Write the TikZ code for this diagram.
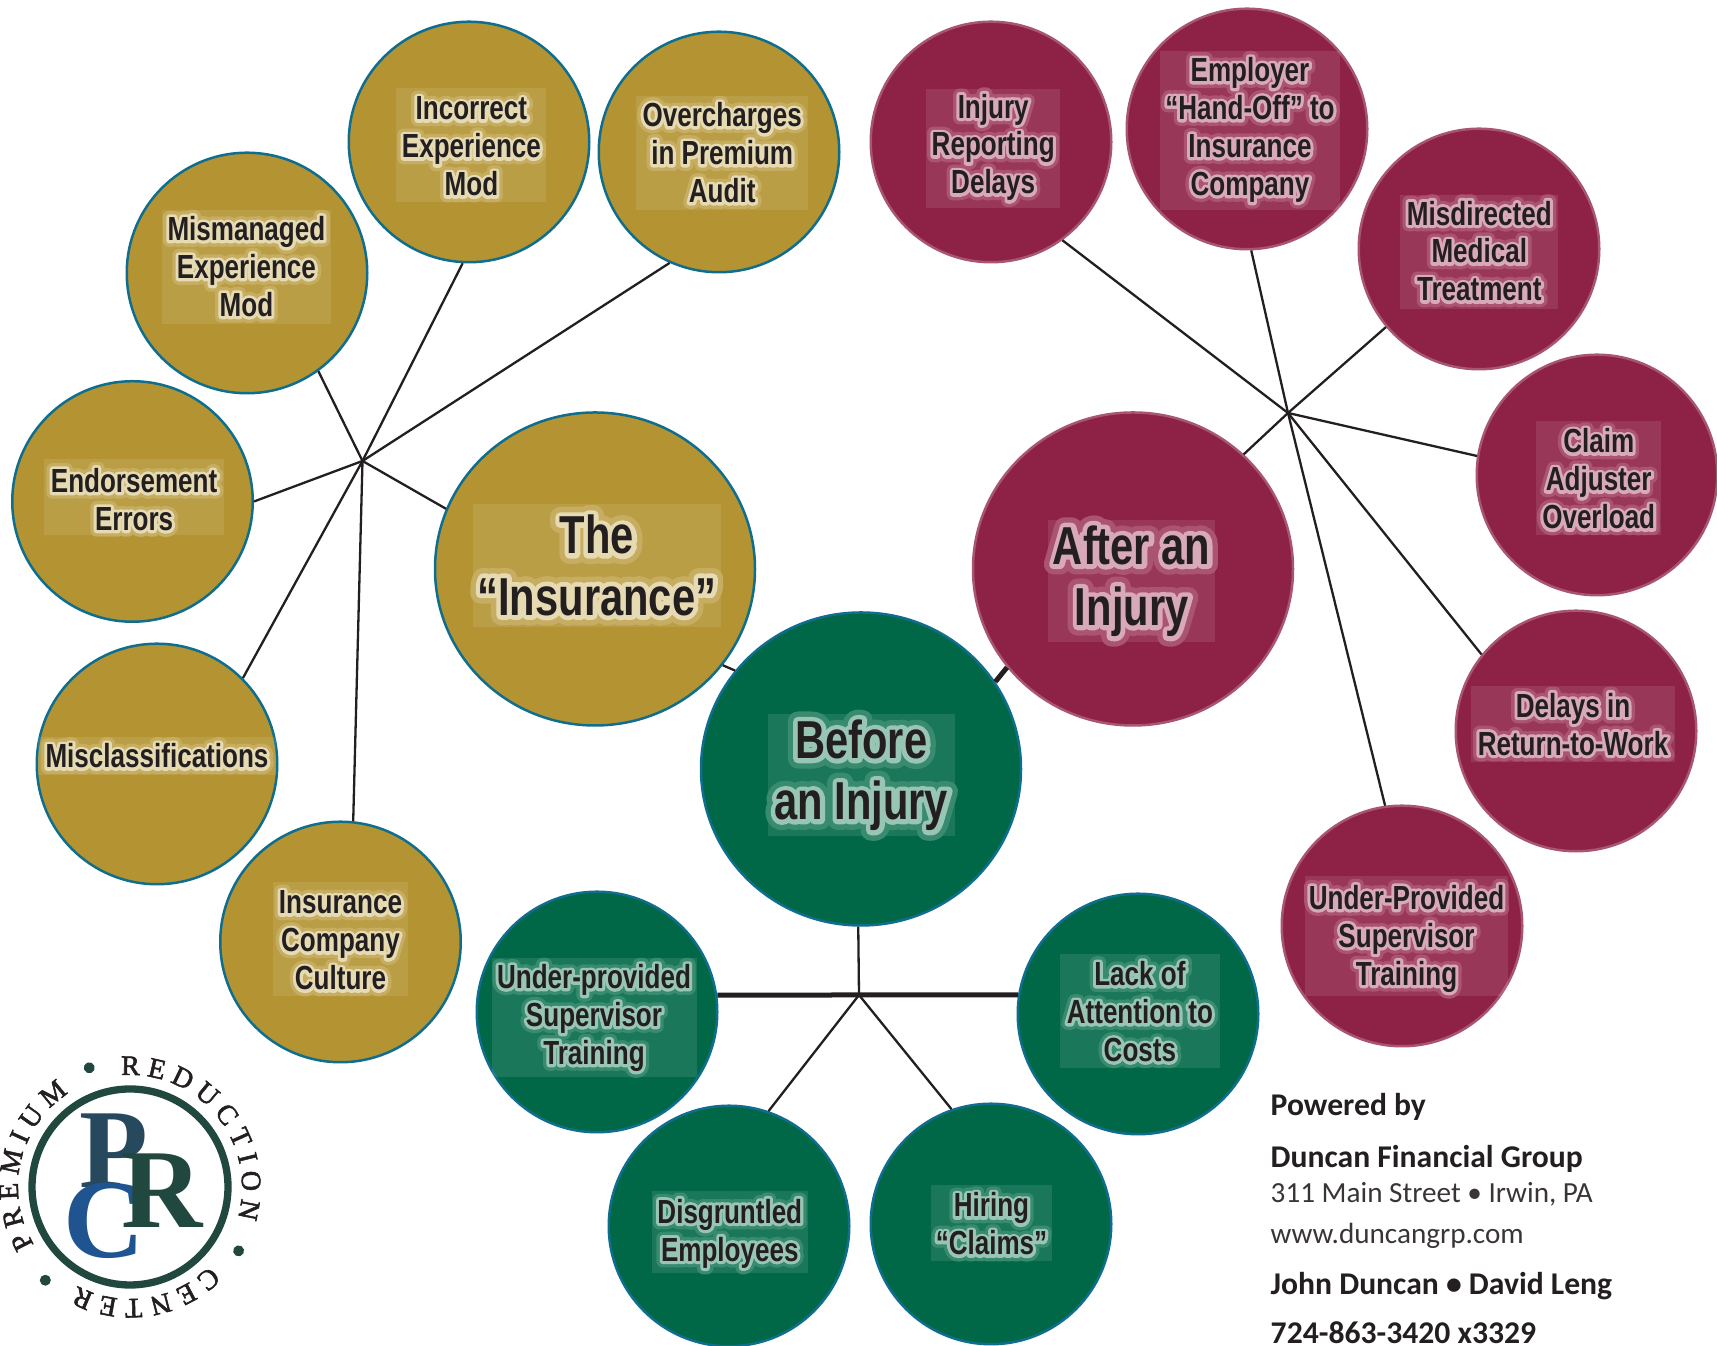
\documentclass[tikz,border=0pt]{standalone}
\usepackage{fontspec}
\usetikzlibrary{shapes,decorations.text}
\setmainfont{Carlito}
\newfontfamily\bubblefont[FakeStretch=0.78,UprightFont=* Bold]{Liberation Sans}
\newfontfamily\glowwide[FakeStretch=0.78,FakeBold=38,UprightFont=* Bold]{Liberation Sans}
\newfontfamily\glownarrow[FakeStretch=0.78,FakeBold=18,UprightFont=* Bold]{Liberation Sans}
\newfontfamily\logofont[UprightFont=* Bold]{Liberation Serif}
\newfontfamily\ringfont[FakeBold=2]{Liberation Serif}
\definecolor{gold}{HTML}{B39332}
\definecolor{goldhalo}{HTML}{F3EBD2}
\definecolor{pine}{HTML}{006847}
\definecolor{pinehalo}{HTML}{BFDCD0}
\definecolor{wine}{HTML}{8E2146}
\definecolor{winehalo}{HTML}{EBCBD6}
\definecolor{tealedge}{HTML}{0F6E8E}
\definecolor{wineedge}{HTML}{A8556F}
\definecolor{ink}{HTML}{231F20}
\definecolor{ringgreen}{HTML}{20483F}
\definecolor{pslate}{HTML}{27495E}
\definecolor{cblue}{HTML}{1F5490}
\newcommand{\lines}[1]{\begin{tabular}{@{}c@{}}#1\end{tabular}}
\newcommand{\glowlabel}[3][0pt]{\leavevmode\pgfsetroundjoin\raisebox{-#1}[\height][\depth]{\rlap{\glowwide\color{#2halo!30!#2}\lines{#3}}\rlap{\glownarrow\color{#2halo!80!#2}\lines{#3}}\lines{#3}}}
\newcommand{\ringdot}{\fontsize{12}{12}\selectfont\color{ringgreen}•}
\tikzset{
  bubble/.style={draw=tealedge,fill=gold,line width=0.025cm,inner sep=0pt},
  goldbig/.style={bubble,shape=ellipse,minimum width=3.20cm,minimum height=3.13cm},
  goldsmall/.style={bubble,shape=circle,minimum size=2.405cm},
  pinebig/.style={goldbig,fill=pine},
  pinesmall/.style={goldsmall,fill=pine},
  winebig/.style={goldbig,fill=wine,draw=wineedge},
  winesmall/.style={goldsmall,fill=wine,draw=wineedge},
  panel/.style={shape=rectangle,fill=white,fill opacity=0.1,text opacity=1,text=ink,inner sep=0pt,align=center},
  smalltext/.style={panel,font=\bubblefont\fontsize{9.5}{10.8}\selectfont},
  bigtext/.style={panel,font=\bubblefont\fontsize{15.2}{17.4}\selectfont},
  connector/.style={-,draw=ink,line width=0.023cm},
  heavyconnector/.style={-,draw=ink,line width=0.05cm},
  footerbold/.style={anchor=base west,inner sep=0pt,text=ink,font=\bfseries\fontsize{9}{10}\selectfont},
  footerplain/.style={anchor=base west,inner sep=0pt,text=ink!90,font=\fontsize{8.3}{10}\selectfont},
  logoletter/.style={anchor=base west,inner sep=0pt,font=\logofont\fontsize{32}{32}\selectfont}
}

\begin{document}
\begin{tikzpicture}
\useasboundingbox (0,0) rectangle (17.17,13.46);

\coordinate (lefthub) at (3.625,8.85);
\coordinate (righthub) at (12.88,9.33);
\coordinate (lowerhub) at (8.59,3.51);

% the three big circles
\node[goldbig] (insurance) at (5.95,7.77) {};
\node[winebig] (after) at (11.33,7.77) {};
\node[pinebig] (before) at (8.61,5.77) {};

% gold
\node[goldsmall] (incorrect) at (4.69,12.04) {};
\node[goldsmall] (overcharges) at (7.19,11.94) {};
\node[goldsmall] (mismanaged) at (2.47,10.73) {};
\node[goldsmall] (endorsement) at (1.325,8.445) {};
\node[goldsmall] (misclass) at (1.57,5.82) {};
\node[goldsmall] (culture) at (3.405,4.04) {};

% green
\node[pinesmall] (undertrained) at (5.97,3.34) {};
\node[pinesmall] (costs) at (11.38,3.32) {};
\node[pinesmall] (disgruntled) at (7.29,1.20) {};
\node[pinesmall] (hiring) at (9.91,1.22) {};

% red
\node[winesmall] (delays) at (9.91,12.04) {};
\node[winesmall] (handoff) at (12.47,12.17) {};
\node[winesmall] (medical) at (14.79,10.97) {};
\node[winesmall] (adjuster) at (15.97,8.71) {};
\node[winesmall] (returnwork) at (15.76,6.15) {};
\node[winesmall] (supervisor) at (14.02,4.20) {};

% panels with text
\node[bigtext,minimum width=2.475cm,minimum height=1.128cm] (insurancetext) at (5.968,7.804) {\glowlabel[1.9pt]{gold}{The\\“Insurance”}};
\node[bigtext,minimum width=1.675cm,minimum height=1.215cm] (aftertext) at (11.317,7.651) {\glowlabel[0.5pt]{wine}{After an\\Injury}};
\node[bigtext,minimum width=1.872cm,minimum height=1.215cm] (beforetext) at (8.612,5.713) {\glowlabel[0.6pt]{pine}{Before\\an Injury}};

\node[smalltext,minimum width=1.50cm,minimum height=1.128cm] (incorrecttext) at (4.714,12.009) {\glowlabel[1.5pt]{gold}{Incorrect\\Experience\\Mod}};
\node[smalltext,minimum width=1.72cm,minimum height=1.128cm] (overchargestext) at (7.222,11.932) {\glowlabel[1.2pt]{gold}{Overcharges\\in Premium\\Audit}};
\node[smalltext,minimum width=1.686cm,minimum height=1.128cm] (mismanagedtext) at (2.464,10.794) {\glowlabel[1.2pt]{gold}{Mismanaged\\Experience\\Mod}};
\node[smalltext,minimum width=1.807cm,minimum height=0.745cm] (endorsementtext) at (1.341,8.489) {\glowlabel[1.9pt]{gold}{Endorsement\\Errors}};
\node[smalltext,minimum width=2.38cm,minimum height=0.37cm] (misclasstext) at (1.57,5.90) {\glowlabel[1.2pt]{gold}{Misclassifications}};
\node[smalltext,minimum width=1.358cm,minimum height=1.128cm] (culturetext) at (3.405,4.07) {\glowlabel[1.5pt]{gold}{Insurance\\Company\\Culture}};

\node[smalltext,minimum width=2.05cm,minimum height=1.19cm] (undertrainedtext) at (5.94,3.282) {\glowlabel[0.3pt]{pine}{Under-provided\\Supervisor\\Training}};
\node[smalltext,minimum width=1.60cm,minimum height=1.139cm] (coststext) at (11.399,3.353) {\glowlabel[1.5pt]{pine}{Lack of\\Attention to\\Costs}};
\node[smalltext,minimum width=1.566cm,minimum height=0.82cm] (disgruntledtext) at (7.298,1.136) {\glowlabel[0.6pt]{pine}{Disgruntled\\Employees}};
\node[smalltext,minimum width=1.215cm,minimum height=0.745cm] (hiringtext) at (9.915,1.229) {\glowlabel[1.5pt]{pine}{Hiring\\“Claims”}};

\node[smalltext,minimum width=1.336cm,minimum height=1.194cm] (delaystext) at (9.932,11.976) {\glowlabel{wine}{Injury\\Reporting\\Delays}};
\node[smalltext,minimum width=1.807cm,minimum height=1.588cm] (handofftext) at (12.50,12.151) {\glowlabel{wine}{Employer\\“Hand-Off” to\\Insurance\\Company}};
\node[smalltext,minimum width=1.577cm,minimum height=1.139cm] (medicaltext) at (14.793,10.941) {\glowlabel[1pt]{wine}{Misdirected\\Medical\\Treatment}};
\node[smalltext,minimum width=1.248cm,minimum height=1.128cm] (adjustertext) at (15.987,8.68) {\glowlabel[1.5pt]{wine}{Claim\\Adjuster\\Overload}};
\node[smalltext,minimum width=2.048cm,minimum height=0.756cm] (returnworktext) at (15.73,6.217) {\glowlabel[1.2pt]{wine}{Delays in\\Return-to-Work}};
\node[smalltext,minimum width=2.026cm,minimum height=1.205cm] (supervisortext) at (14.065,4.098) {\glowlabel[1pt]{wine}{Under-Provided\\Supervisor\\Training}};

% connectors
\path [connector] (lefthub) edge (insurance.158.6);
\path [connector] (lefthub) edge (mismanaged.-54);
\path [connector] (lefthub) edge (incorrect.-93.6);
\path [connector] (lefthub) edge (overcharges.-114);
\path [connector] (lefthub) edge (endorsement.0);
\path [connector] (lefthub) edge (misclass.45);
\path [connector] (lefthub) edge (culture.84);
\path [connector] (insurance.-37.3) edge (before.142.6);

\path [connector] (righthub) edge (after.46.3);
\path [connector] (righthub) edge (delays.-54.5);
\path [connector] (righthub) edge (handoff.-88);
\path [connector] (righthub) edge (medical.-140.5);
\path [connector] (righthub) edge (adjuster.171.7);
\path [connector] (righthub) edge (returnwork.141);
\path [connector] (righthub) edge (supervisor.98.5);
\path [heavyconnector] (before.33.7) edge (after.218.9);

\path [connector] (lowerhub) edge (before.-91);
\path [heavyconnector] (lowerhub) edge (undertrained.8);
\path [heavyconnector] (lowerhub) edge (costs.171);
\path [connector] (lowerhub) edge (disgruntled.71.6);
\path [connector] (lowerhub) edge (hiring.109.7);

% logo
\node[shape=circle,draw=ringgreen,line width=0.073cm,minimum size=1.96cm] (logoring) at (1.30,1.59) {};
\node[logoletter,text=pslate] (letterp) at (0.79,1.58) {P};
\node[logoletter,text=cblue] (letterc) at (0.63,0.88) {C};
\node[logoletter,text=ringgreen] (letterr) at (1.21,1.18) {R};
\path [decorate,decoration={text along path,text align={fit to path},
  text={|\ringfont\fontsize{8}{8}\selectfont\color{ink}|PREMIUM {\ringdot} REDUCTION {\ringdot} CENTER {\ringdot}}}]
  (1.30,1.59) ++(211:1.12) arc[start angle=211,end angle=-136,radius=1.12];

% footer
\node[footerbold] (poweredby) at (12.70,2.30) {Powered by};
\node[footerbold] (company) at (12.70,1.78) {Duncan Financial Group};
\node[footerplain] (street) at (12.70,1.43) {311 Main Street • Irwin, PA};
\node[footerplain] (website) at (12.70,1.02) {www.duncangrp.com};
\node[footerbold] (people) at (12.70,0.51) {John Duncan • David Leng};
\node[footerbold] (phone) at (12.70,0.02) {724-863-3420 x3329};
\end{tikzpicture}
\end{document}
